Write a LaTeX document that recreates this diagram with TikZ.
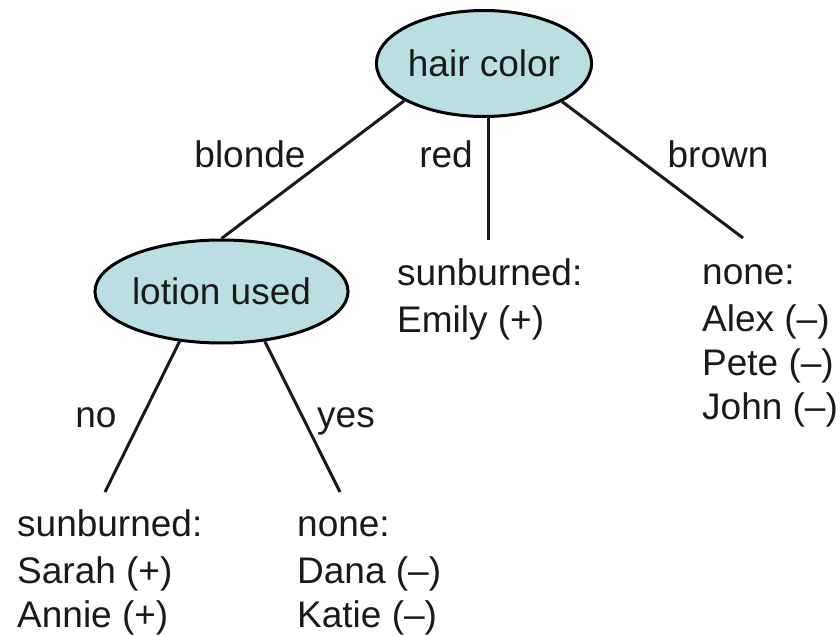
\documentclass[tikz,border=0pt]{standalone}
\usepackage{fontspec}
\setmainfont{Liberation Sans}
\usetikzlibrary{shapes.geometric}
\definecolor{nodefill}{HTML}{B9DFE2}
\definecolor{ink}{HTML}{1A1A1A}
\begin{document}
\begin{tikzpicture}[x=1pt,y=-1pt,
  every node/.style={font=\fontsize{37}{44}\selectfont, text=ink},
  attr/.style={ellipse, draw=black, line width=3pt, fill=nodefill,
    minimum width=197pt, minimum height=106pt, inner sep=0pt},
  branch/.style={draw=ink, line width=3pt},
  edgelabel/.style={anchor=base, inner sep=0pt},
  % a multi-line node's base is the baseline of its last line
  leaf/.style={anchor=base west, align=left, inner sep=0pt}]
  \useasboundingbox (0,0) rectangle (840,636);

  % decision nodes
  \node[attr] (hair) at (484,63.5) {hair color};
  \node[attr, minimum height=103pt] (lotion) at (221.5,291.5) {lotion used};

  % free ends of the branches
  \coordinate (redEnd) at (488,240);
  \coordinate (brownEnd) at (743,238);
  \coordinate (noEnd) at (105,492);
  \coordinate (yesEnd) at (340,492);

  % branches
  \draw[branch] (hair.-155) -- (lotion.north);
  \draw[branch] (hair.south -| redEnd) -- (redEnd);
  \draw[branch] (hair.-26) -- (brownEnd);
  \draw[branch] (lotion.-130) -- (noEnd);
  \draw[branch] (lotion.-49) -- (yesEnd);

  % branch labels
  \node[edgelabel] (lblonde) at (250,168) {blonde};
  \node[edgelabel] (lred) at (446,168) {red};
  \node[edgelabel] (lbrown) at (718,168) {brown};
  \node[edgelabel] (lno) at (96,427) {no};
  \node[edgelabel] (lyes) at (346,427) {yes};

  % leaves
  \node[leaf] (emily) at (397,332) {sunburned:\\[3pt]Emily (+)};
  \node[leaf] (others) at (702,419) {none:\\[3pt]Alex (–)\\Pete (–)\\John (–)};
  \node[leaf] (burned) at (17,627) {sunburned:\\[3pt]Sarah (+)\\Annie (+)};
  \node[leaf] (safe) at (297,627) {none:\\[3pt]Dana (–)\\Katie (–)};
\end{tikzpicture}
\end{document}
